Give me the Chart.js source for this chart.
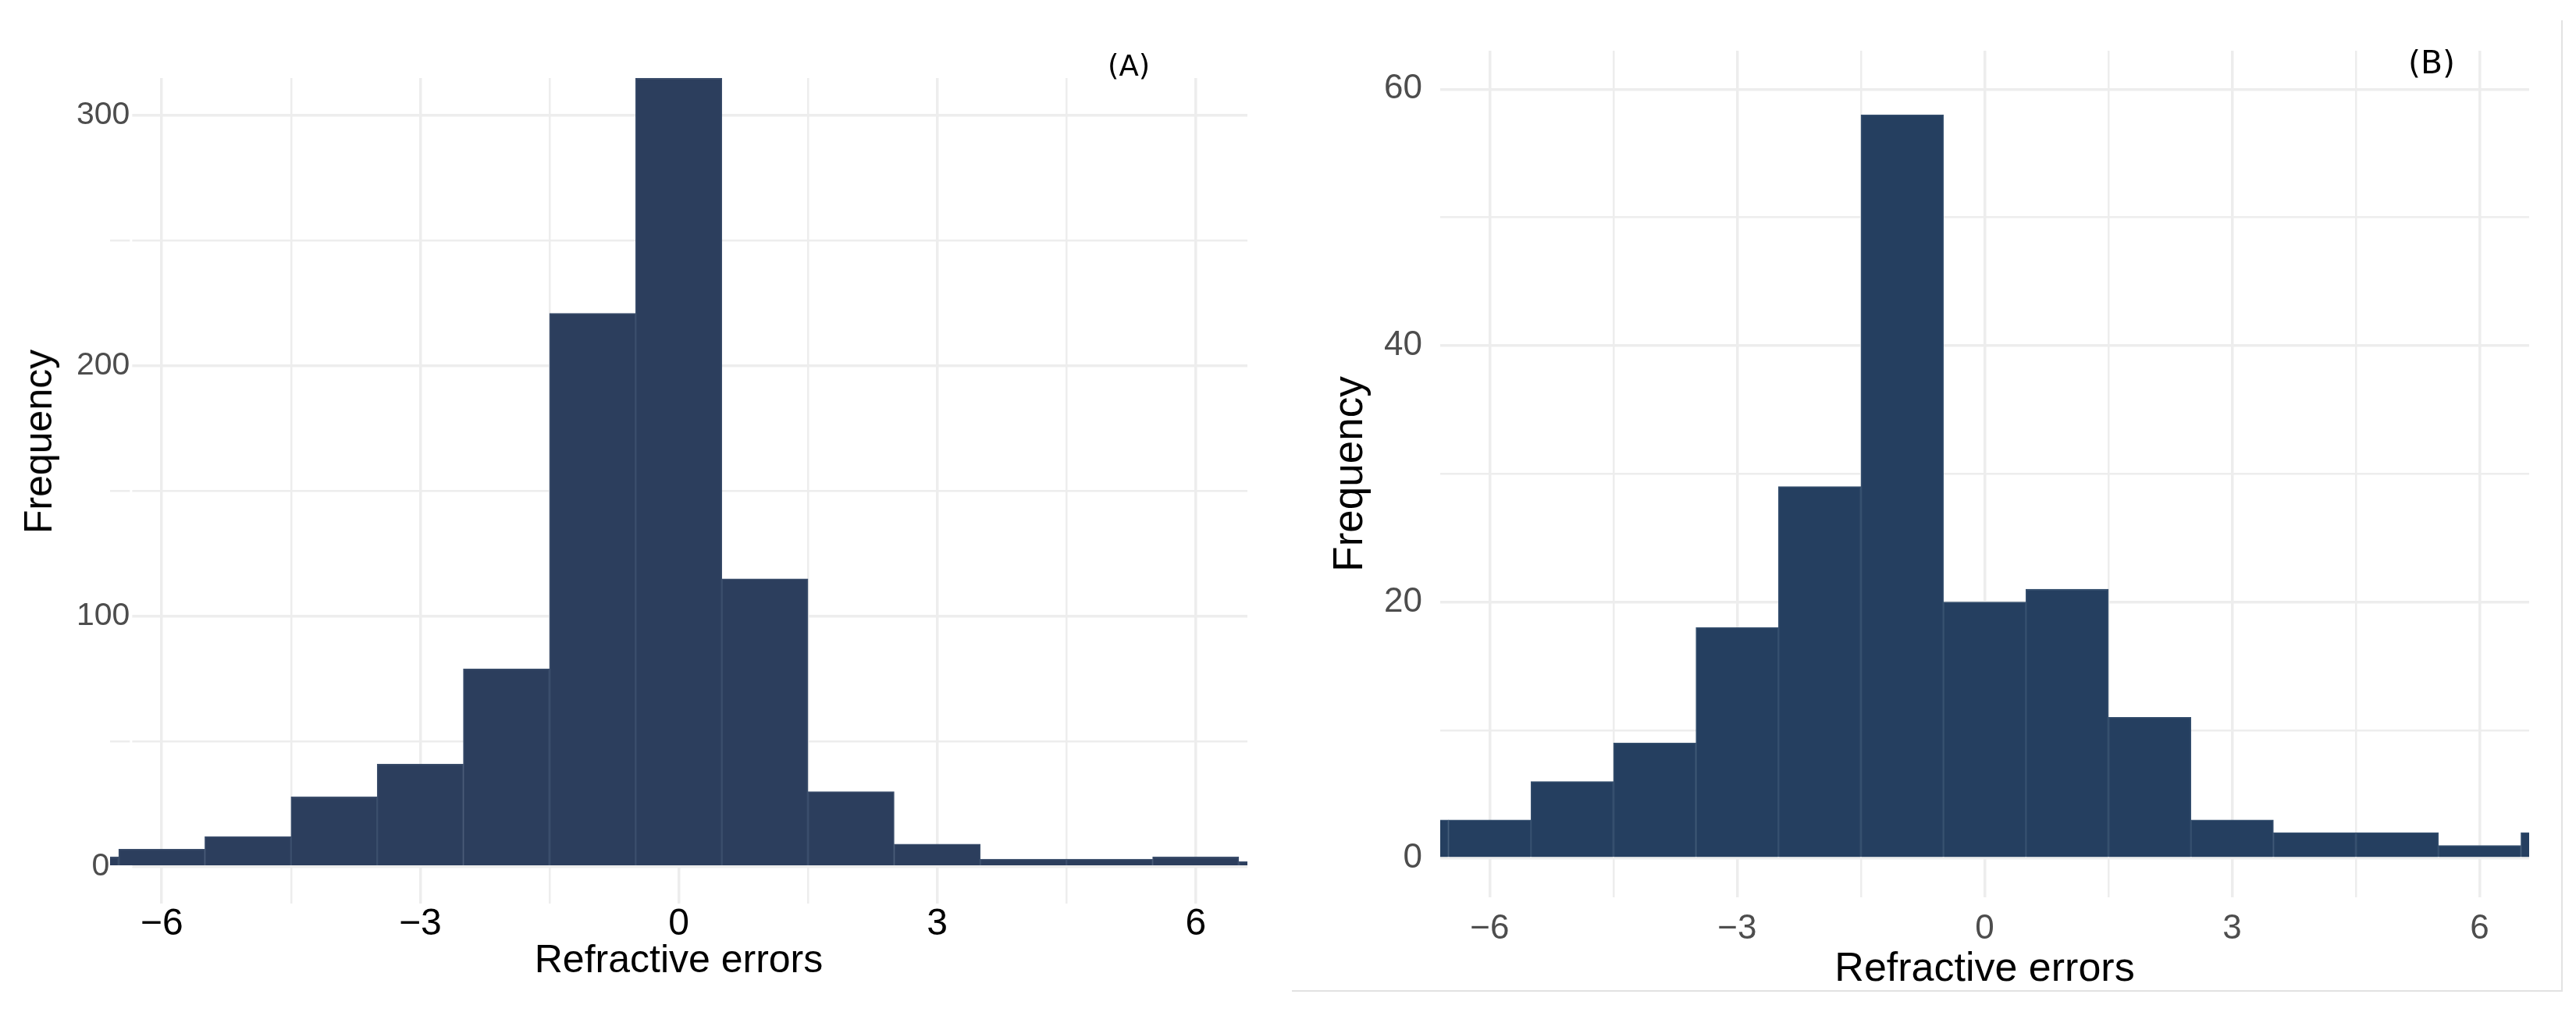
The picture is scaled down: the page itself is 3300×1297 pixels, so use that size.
<!DOCTYPE html>
<html>
<head>
<meta charset="utf-8">
<title>Refractive errors histograms</title>
<script src="https://cdn.jsdelivr.net/npm/chart.js@4.4.1/dist/chart.umd.min.js"></script>
<style>
  html, body { margin: 0; padding: 0; background: #fff; }
  body { position: relative; width: 3300px; height: 1297px; overflow: hidden; font-family: "Liberation Sans", Arial, sans-serif; }
  canvas { position: absolute; top: 0; }
  #chartA { left: 0; }
  #chartB { left: 1650px; }
  .tag { position: absolute; font-family: "DejaVu Sans", sans-serif; line-height: 1; color: #000; white-space: nowrap; }
  #tagA { left: 1419px; top: 66px; font-size: 37px; }
  #tagB { left: 3085px; top: 60px; font-size: 41px; }
  #freqA { position: absolute; left: 49px; top: 566px; font-size: 50px; line-height: 1; color: #000; white-space: nowrap;
           transform: translate(-50%, -50%) rotate(-90deg); }
  #frameB { position: absolute; left: 1655px; top: 26px; width: 1626px; height: 1243px;
            border-right: 2px solid #e2e2e2; border-bottom: 2px solid #e2e2e2; }
</style>
</head>
<body>
<canvas id="chartA" width="1650" height="1297"></canvas>
<canvas id="chartB" width="1650" height="1297"></canvas>
<div id="frameB"></div>
<div id="freqA">Frequency</div>
<div class="tag" id="tagA">(A)</div>
<div class="tag" id="tagB">(B)</div>
<script>
// bin centres (width 1), edge bins are cut by the axis range
const binCenters = [-7, -6, -5, -4, -3, -2, -1, 0, 1, 2, 3, 4, 5, 6, 7];
const countsA = [4, 7, 12, 28, 41, 79, 221, 315, 115, 30, 9, 3, 3, 4, 2];
const countsB = [3, 3, 6, 9, 18, 29, 58, 20, 21, 11, 3, 2, 2, 1, 2];

const xGridValues = [-6, -4.5, -3, -1.5, 0, 1.5, 3, 4.5, 6];
const xTickLabels = ['\u22126', '', '\u22123', '', '0', '', '3', '', '6'];

const yGridA = [0, 50, 100, 150, 200, 250, 300];
const yTickLabelsA = ['0', '', '100', '', '200', '', '300'];
const yGridB = [0, 10, 20, 30, 40, 50, 60];
const yTickLabelsB = ['0', '', '20', '', '40', '', '60'];

const FONT = '"Liberation Sans", Arial, sans-serif';
const GRID = '#ededed';

function isMajor(labels) {
  return ctx => (labels[ctx.index] !== '' ? 3.5 : 2.5);
}

function histogram(canvasId, counts, opts) {
  return new Chart(document.getElementById(canvasId), {
    type: 'bar',
    data: {
      datasets: [{
        data: binCenters.map((x, i) => ({ x: x, y: counts[i] })),
        backgroundColor: opts.fill,
        borderColor: opts.edge,
        borderWidth: 1.5,
        barPercentage: 1,
        categoryPercentage: 1,
        clip: 0
      }]
    },
    options: {
      responsive: false,
      animation: false,
      devicePixelRatio: 1,
      layout: { padding: { top: opts.top, right: opts.right, bottom: 0, left: 0 } },
      plugins: { legend: { display: false }, tooltip: { enabled: false } },
      scales: {
        x: {
          type: 'linear',
          min: -6.6,
          max: 6.6,
          offset: false,
          afterBuildTicks: s => { s.ticks = xGridValues.map(v => ({ value: v })); },
          afterFit: s => { s.height = opts.xHeight; },
          border: { display: false },
          grid: { color: GRID, lineWidth: isMajor(xTickLabels), drawTicks: false, offset: false },
          ticks: {
            autoSkip: false, maxRotation: 0, padding: opts.xTickPad,
            color: opts.xTickColor,
            font: { family: FONT, size: opts.xTickSize, lineHeight: 1 },
            callback: (v, i) => xTickLabels[i]
          },
          title: {
            display: true, text: 'Refractive errors', color: '#000',
            font: { family: FONT, size: opts.xTitleSize, lineHeight: 1 },
            padding: { top: 0, bottom: opts.xTitlePad }
          }
        },
        y: {
          min: opts.yMin,
          max: opts.yMax,
          afterBuildTicks: s => { s.ticks = opts.yGrid.map(v => ({ value: v })); },
          afterFit: s => { s.width = opts.yWidth; },
          border: { display: false },
          grid: { color: GRID, lineWidth: isMajor(opts.yLabels), drawTicks: false },
          ticks: opts.yTicks,
          title: {
            display: opts.yTitle, text: 'Frequency', color: '#000',
            font: { family: FONT, size: 53, lineHeight: 1 },
            padding: { top: 53.5, bottom: 0 }
          }
        }
      }
    }
  });
}

// panel A: labels 100-300 run into the panel a little, the zero label sits further left
histogram('chartA', countsA, {
  fill: '#2c3e5d', edge: '#3b4e6c',
  top: 100, right: 52, xHeight: 139, yWidth: 141,
  yMin: -14.7, yMax: 315, yGrid: yGridA, yLabels: yTickLabelsA,
  xTickPad: 3, xTickSize: 48, xTickColor: '#000',
  xTitleSize: 50, xTitlePad: 40, yTitle: false,
  yTicks: {
    autoSkip: false, mirror: true, crossAlign: 'far', padding: -43, color: '#4d4d4d',
    font: { family: FONT, size: 41, lineHeight: 1 },
    showLabelBackdrop: true, backdropColor: '#fff',
    backdropPadding: { top: 0, bottom: 0, left: 0, right: 3 },
    callback: (v, i) => yTickLabelsA[i] + (v === 0 ? '\u2007\u200a' : '')
  }
});

histogram('chartB', countsB, {
  fill: '#253f60', edge: '#36506f',
  top: 65, right: 60, xHeight: 147, yWidth: 195,
  yMin: -3.04, yMax: 63, yGrid: yGridB, yLabels: yTickLabelsB,
  xTickPad: 19, xTickSize: 44, xTickColor: '#4d4d4d',
  xTitleSize: 52, xTitlePad: 28, yTitle: true,
  yTicks: {
    autoSkip: false, padding: 23, color: '#4d4d4d',
    font: { family: FONT, size: 44, lineHeight: 1 },
    callback: (v, i) => yTickLabelsB[i]
  }
});
</script>
</body>
</html>
